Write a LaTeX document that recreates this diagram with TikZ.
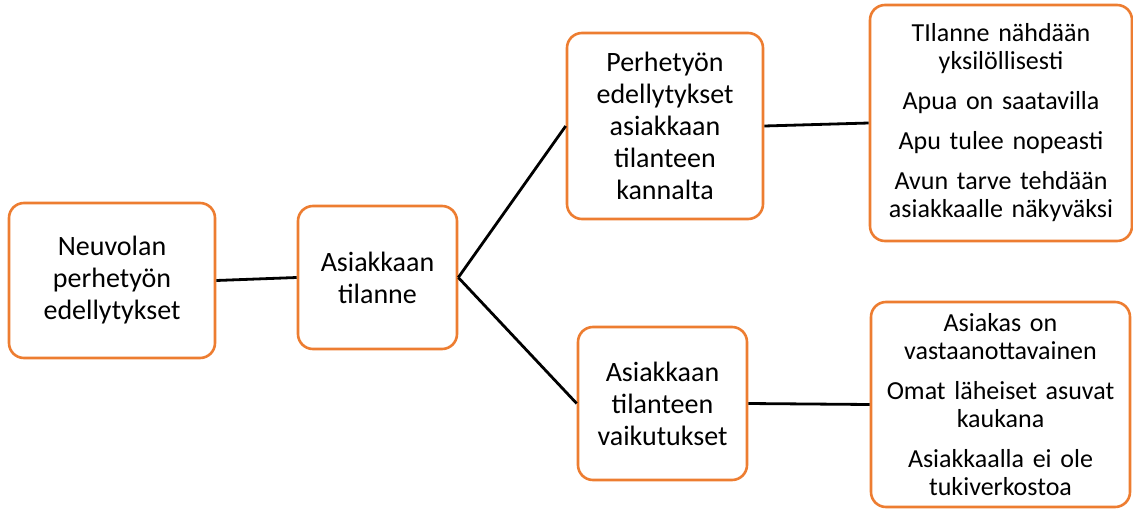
\documentclass[tikz,border=0pt]{standalone}
\usepackage{fontspec}
\setmainfont{Carlito}
\definecolor{boxorange}{HTML}{ED7D31}
\tikzset{
  box/.style={draw=boxorange, line width=2.6pt, rounded corners=15pt, fill=white,
    inner sep=0pt, align=center, text=black},
  bigtext/.style={font=\fontsize{28}{32}\selectfont},
  smalltext/.style={font=\fontsize{26}{28}\selectfont},
  link/.style={draw=black, line width=2.8pt}
}
\begin{document}
\begin{tikzpicture}[x=1pt,y=-1pt]
\useasboundingbox (0,0) rectangle (1133,509);
\node[box,bigtext,minimum width=206pt,minimum height=155pt,text width=190pt] (b1) at (112,280.5)
  {Neuvolan\\perhetyön\\edellytykset};
\node[box,bigtext,minimum width=159pt,minimum height=143pt,text width=150pt] (b2) at (377.5,277.5)
  {Asiakkaan\\tilanne};
\node[box,bigtext,minimum width=196pt,minimum height=186pt,text width=185pt] (b3) at (665,126)
  {Perhetyön\\edellytykset\\asiakkaan\\tilanteen\\kannalta};
\node[box,bigtext,minimum width=169pt,minimum height=153pt,text width=160pt] (b5) at (662.5,403.5)
  {Asiakkaan\\tilanteen\\vaikutukset};
\node[box,smalltext,minimum width=262pt,minimum height=236pt,text width=250pt] (b4) at (1001,123)
  {TIlanne nähdään\\yksilöllisesti\\[12pt]Apua on saatavilla\\[12pt]Apu tulee nopeasti\\[12pt]Avun tarve tehdään\\asiakkaalle näkyväksi};
\node[box,smalltext,minimum width=259pt,minimum height=205pt,text width=250pt] (b6) at (1000.5,404.5)
  {Asiakas on\\vastaanottavainen\\[12pt]Omat läheiset asuvat\\kaukana\\[12pt]Asiakkaalla ei ole\\tukiverkostoa};
\draw[link] (b1.east) -- (b2.west);
\draw[link] (b2.east) -- (b3.west);
\draw[link] (b2.east) -- (b5.west);
\draw[link] (b3.east) -- (b4.west);
\draw[link] (b5.east) -- (b6.west);
\end{tikzpicture}
\end{document}
